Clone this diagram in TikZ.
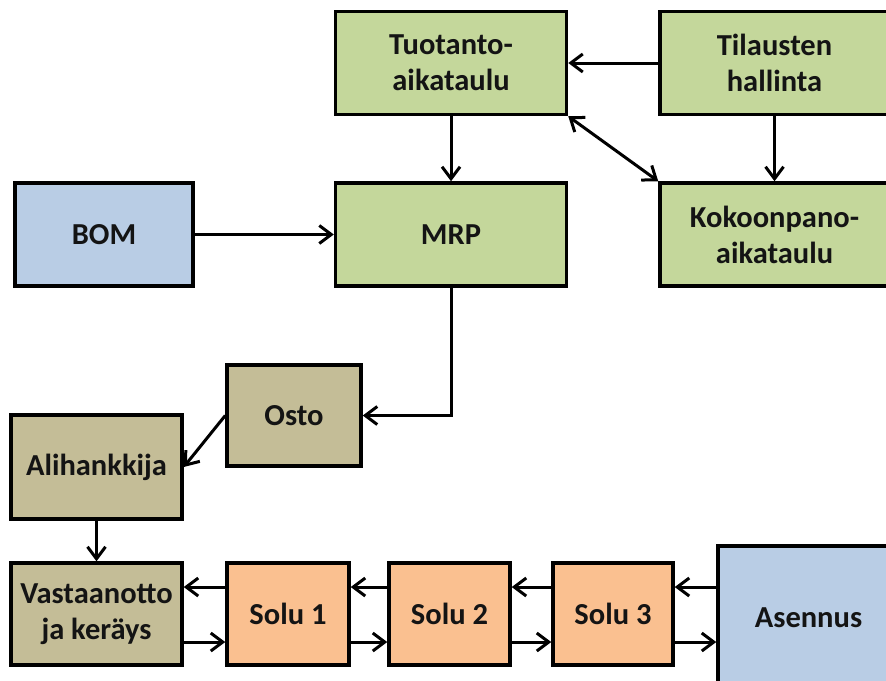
\documentclass[tikz,border=0pt]{standalone}
\usepackage{fontspec}
\setmainfont{Carlito}
\usetikzlibrary{arrows.meta}
\definecolor{boxgreen}{HTML}{C4D79B}
\definecolor{boxtan}{HTML}{C4BD97}
\definecolor{boxblue}{HTML}{B9CDE5}
\definecolor{boxorange}{HTML}{FAC090}
\definecolor{inktext}{HTML}{141414}
\tikzset{
  blk/.style={draw=black, line width=3.5pt, inner sep=0pt, align=center,
    text=inktext, font=\fontsize{30.5}{36}\selectfont\bfseries,
    minimum height=103pt},
  green/.style={blk, fill=boxgreen},
  tan/.style={blk, fill=boxtan},
  blue/.style={blk, fill=boxblue},
  orange/.style={blk, fill=boxorange},
  barb/.tip={Straight Barb[length=12pt,width=18pt,line width=3pt]},
  arr/.style={line width=3pt, -barb},
  darr/.style={line width=3pt, barb-barb}
}
\begin{document}
\begin{tikzpicture}[x=1pt,y=-1pt]
\useasboundingbox (0,0) rectangle (886,680);
\clip (0,0) rectangle (886,680);
\fill[white] (0,0) rectangle (886,680);

% planning level
\node[green, minimum width=231pt] (Tuot) at (451,63) {Tuotanto-\\aikataulu};
\node[green, minimum width=229pt] (Til) at (774.5,63) {Tilausten\\hallinta};
\node[blue, minimum width=178pt] (BOM) at (104,234.5) {BOM};
\node[green, minimum width=231pt] (MRP) at (451,234.5) {MRP};
\node[green, minimum width=229pt] (Kok) at (774.5,234.5) {Kokoonpano-\\aikataulu};

% purchasing
\node[tan, minimum width=134pt, minimum height=101pt] (Osto) at (294,415.5) {Osto};
\node[tan, minimum width=171pt, minimum height=104pt] (Ali) at (96.5,467) {Alihankkija};

% shop floor
\node[tan, minimum width=171pt, minimum height=102pt] (Vas) at (96.5,614) {Vastaanotto\\ja keräys};
\node[orange, minimum width=122pt, minimum height=102pt] (S1) at (288,614) {Solu 1};
\node[orange, minimum width=121pt, minimum height=102pt] (S2) at (449.5,614) {Solu 2};
\node[orange, minimum width=120pt, minimum height=102pt] (S3) at (613,614) {Solu 3};
\node[blue, minimum width=181pt, minimum height=144pt] (Ase) at (808.5,618) {Asennus};

% planning flows
\draw[arr] (Til.west) -- (Tuot.east);
\draw[arr] (Tuot.south) -- (MRP.north);
\draw[arr] (Til.south) -- (Kok.north);
\draw[darr] (Tuot.south east) -- (Kok.north west);
\draw[arr] (BOM.east) -- (MRP.west);
\draw[arr] (MRP.south) |- (Osto.east);
\draw[arr] (Osto.west) -- (Ali.east);
\draw[arr] (Ali.south) -- (Vas.north);

% material flow along the cells
\coordinate (u1) at ([yshift=27pt]S1.west);
\coordinate (u2) at ([yshift=27pt]S2.west);
\coordinate (u3) at ([yshift=27pt]S3.west);
\coordinate (u4) at ([yshift=27pt]S3.east);
\coordinate (d1) at ([yshift=-28pt]Vas.east);
\coordinate (d2) at ([yshift=-28pt]S1.east);
\coordinate (d3) at ([yshift=-28pt]S2.east);
\coordinate (d4) at ([yshift=-28pt]S3.east);
\draw[arr] (u1) -- (u1 -| Vas.east);
\draw[arr] (u2) -- (u2 -| S1.east);
\draw[arr] (u3) -- (u3 -| S2.east);
\draw[arr] (u4 -| Ase.west) -- (u4);
\draw[arr] (d1) -- (d1 -| S1.west);
\draw[arr] (d2) -- (d2 -| S2.west);
\draw[arr] (d3) -- (d3 -| S3.west);
\draw[arr] (d4) -- (d4 -| Ase.west);
\end{tikzpicture}
\end{document}
